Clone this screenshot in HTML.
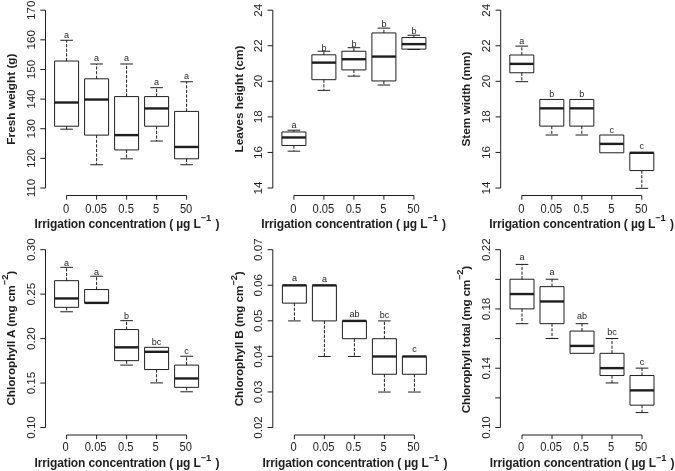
<!DOCTYPE html>
<html><head><meta charset="utf-8"><title>Boxplots</title>
<style>html,body{margin:0;padding:0;background:#fff}svg{display:block;filter:grayscale(1)}text{font-family:"Liberation Sans",sans-serif;fill:#1e1e1e}</style></head>
<body>
<svg width="675" height="471" viewBox="0 0 675 471">
<rect width="675" height="471" fill="#fff"/>
<g stroke="#1e1e1e" stroke-width="1" fill="none" stroke-linejoin="round">
<path d="M45.50 188.00V10.20M45.50 188.00h-5.20M45.50 158.37h-5.20M45.50 128.73h-5.20M45.50 99.10h-5.20M45.50 69.47h-5.20M45.50 39.83h-5.20M45.50 10.20h-5.20M66.60 195.50H186.60M66.60 195.50v4.20M96.60 195.50v4.20M126.60 195.50v4.20M156.60 195.50v4.20M186.60 195.50v4.20"/>
<rect x="54.60" y="61.03" width="24.00" height="65.19" fill="#fff"/>
<path d="M66.60 61.03V40.28" stroke-dasharray="3.1 1.5"/>
<path d="M66.60 126.22V129.18" stroke-dasharray="3.1 1.5"/>
<path d="M60.30 40.28h12.60M60.30 129.18h12.60"/>
<path d="M54.60 102.51h24.00" stroke-width="2.4"/>
<rect x="84.60" y="78.81" width="24.00" height="56.30" fill="#fff"/>
<path d="M96.60 78.81V63.99" stroke-dasharray="3.1 1.5"/>
<path d="M96.60 135.11V164.74" stroke-dasharray="3.1 1.5"/>
<path d="M90.30 63.99h12.60M90.30 164.74h12.60"/>
<path d="M84.60 99.55h24.00" stroke-width="2.4"/>
<rect x="114.60" y="96.59" width="24.00" height="53.34" fill="#fff"/>
<path d="M126.60 96.59V63.99" stroke-dasharray="3.1 1.5"/>
<path d="M126.60 149.93V158.82" stroke-dasharray="3.1 1.5"/>
<path d="M120.30 63.99h12.60M120.30 158.82h12.60"/>
<path d="M114.60 135.11h24.00" stroke-width="2.4"/>
<rect x="144.60" y="96.59" width="24.00" height="29.63" fill="#fff"/>
<path d="M156.60 96.59V87.70" stroke-dasharray="3.1 1.5"/>
<path d="M156.60 126.22V141.04" stroke-dasharray="3.1 1.5"/>
<path d="M150.30 87.70h12.60M150.30 141.04h12.60"/>
<path d="M144.60 108.44h24.00" stroke-width="2.4"/>
<rect x="174.60" y="111.40" width="24.00" height="47.41" fill="#fff"/>
<path d="M186.60 111.40V81.77" stroke-dasharray="3.1 1.5"/>
<path d="M186.60 158.82V164.74" stroke-dasharray="3.1 1.5"/>
<path d="M180.30 81.77h12.60M180.30 164.74h12.60"/>
<path d="M174.60 146.96h24.00" stroke-width="2.4"/>
</g>
<text x="66.60" y="38.13" font-size="9" text-anchor="middle">a</text>
<text x="96.60" y="61.44" font-size="9" text-anchor="middle">a</text>
<text x="126.60" y="61.44" font-size="9" text-anchor="middle">a</text>
<text x="156.60" y="84.95" font-size="9" text-anchor="middle">a</text>
<text x="186.60" y="79.02" font-size="9" text-anchor="middle">a</text>
<text transform="translate(35.10 188.00) rotate(-90) scale(1 0.94)" font-size="11.6" text-anchor="middle">110</text>
<text transform="translate(35.10 158.37) rotate(-90) scale(1 0.94)" font-size="11.6" text-anchor="middle">120</text>
<text transform="translate(35.10 128.73) rotate(-90) scale(1 0.94)" font-size="11.6" text-anchor="middle">130</text>
<text transform="translate(35.10 99.10) rotate(-90) scale(1 0.94)" font-size="11.6" text-anchor="middle">140</text>
<text transform="translate(35.10 69.47) rotate(-90) scale(1 0.94)" font-size="11.6" text-anchor="middle">150</text>
<text transform="translate(35.10 39.83) rotate(-90) scale(1 0.94)" font-size="11.6" text-anchor="middle">160</text>
<text transform="translate(35.10 10.20) rotate(-90) scale(1 0.94)" font-size="11.6" text-anchor="middle">170</text>
<text transform="translate(66.10 212.50) scale(0.9 1)" font-size="12.4" text-anchor="middle">0</text>
<text transform="translate(96.10 212.50) scale(0.9 1)" font-size="12.4" text-anchor="middle">0.05</text>
<text transform="translate(126.10 212.50) scale(0.9 1)" font-size="12.4" text-anchor="middle">0.5</text>
<text transform="translate(156.10 212.50) scale(0.9 1)" font-size="12.4" text-anchor="middle">5</text>
<text transform="translate(186.10 212.50) scale(0.9 1)" font-size="12.4" text-anchor="middle">50</text>
<text x="34.60" y="227.50" font-size="12" font-weight="bold" textLength="184.8" lengthAdjust="spacing">Irrigation concentration ( µg L<tspan dy="-6.3" font-size="9.3">−1</tspan><tspan dy="6.3" dx="1.2"> )</tspan></text>
<text transform="translate(14.80 99.10) rotate(-90)" font-size="11.8" font-weight="bold" text-anchor="middle">Fresh weight (g)</text>
<g stroke="#1e1e1e" stroke-width="1" fill="none" stroke-linejoin="round">
<path d="M272.80 188.00V10.20M272.80 188.00h-5.20M272.80 152.44h-5.20M272.80 116.88h-5.20M272.80 81.32h-5.20M272.80 45.76h-5.20M272.80 10.20h-5.20M293.90 195.50H413.90M293.90 195.50v4.20M323.90 195.50v4.20M353.90 195.50v4.20M383.90 195.50v4.20M413.90 195.50v4.20"/>
<rect x="281.90" y="131.97" width="24.00" height="13.51" fill="#fff"/>
<path d="M293.90 131.97V130.19" stroke-dasharray="3.1 1.5"/>
<path d="M293.90 145.48V151.17" stroke-dasharray="3.1 1.5"/>
<path d="M287.60 130.19h12.60M287.60 151.17h12.60"/>
<path d="M281.90 137.48h24.00" stroke-width="2.4"/>
<rect x="311.90" y="54.80" width="24.00" height="24.89" fill="#fff"/>
<path d="M323.90 54.80V51.24" stroke-dasharray="3.1 1.5"/>
<path d="M323.90 79.69V90.36" stroke-dasharray="3.1 1.5"/>
<path d="M317.60 51.24h12.60M317.60 90.36h12.60"/>
<path d="M311.90 62.62h24.00" stroke-width="2.4"/>
<rect x="341.90" y="51.24" width="24.00" height="18.67" fill="#fff"/>
<path d="M353.90 51.24V47.69" stroke-dasharray="3.1 1.5"/>
<path d="M353.90 69.91V76.14" stroke-dasharray="3.1 1.5"/>
<path d="M347.60 47.69h12.60M347.60 76.14h12.60"/>
<path d="M341.90 59.24h24.00" stroke-width="2.4"/>
<rect x="371.90" y="32.93" width="24.00" height="48.01" fill="#fff"/>
<path d="M383.90 32.93V28.13" stroke-dasharray="3.1 1.5"/>
<path d="M383.90 80.94V85.03" stroke-dasharray="3.1 1.5"/>
<path d="M377.60 28.13h12.60M377.60 85.03h12.60"/>
<path d="M371.90 56.58h24.00" stroke-width="2.4"/>
<rect x="401.90" y="37.55" width="24.00" height="11.56" fill="#fff"/>
<path d="M413.90 37.55V35.24" stroke-dasharray="3.1 1.5"/>
<path d="M413.90 49.11V49.47" stroke-dasharray="3.1 1.5"/>
<path d="M407.60 35.24h12.60M407.60 49.47h12.60"/>
<path d="M401.90 44.13h24.00" stroke-width="2.4"/>
</g>
<text x="293.90" y="127.64" font-size="9" text-anchor="middle">a</text>
<text x="323.90" y="50.89" font-size="9" text-anchor="middle">b</text>
<text x="353.90" y="47.14" font-size="9" text-anchor="middle">b</text>
<text x="383.90" y="26.98" font-size="9" text-anchor="middle">b</text>
<text x="413.90" y="34.19" font-size="9" text-anchor="middle">b</text>
<text transform="translate(262.40 188.00) rotate(-90) scale(1 0.94)" font-size="11.6" text-anchor="middle">14</text>
<text transform="translate(262.40 152.44) rotate(-90) scale(1 0.94)" font-size="11.6" text-anchor="middle">16</text>
<text transform="translate(262.40 116.88) rotate(-90) scale(1 0.94)" font-size="11.6" text-anchor="middle">18</text>
<text transform="translate(262.40 81.32) rotate(-90) scale(1 0.94)" font-size="11.6" text-anchor="middle">20</text>
<text transform="translate(262.40 45.76) rotate(-90) scale(1 0.94)" font-size="11.6" text-anchor="middle">22</text>
<text transform="translate(262.40 10.20) rotate(-90) scale(1 0.94)" font-size="11.6" text-anchor="middle">24</text>
<text transform="translate(293.40 212.50) scale(0.9 1)" font-size="12.4" text-anchor="middle">0</text>
<text transform="translate(323.40 212.50) scale(0.9 1)" font-size="12.4" text-anchor="middle">0.05</text>
<text transform="translate(353.40 212.50) scale(0.9 1)" font-size="12.4" text-anchor="middle">0.5</text>
<text transform="translate(383.40 212.50) scale(0.9 1)" font-size="12.4" text-anchor="middle">5</text>
<text transform="translate(413.40 212.50) scale(0.9 1)" font-size="12.4" text-anchor="middle">50</text>
<text x="261.30" y="227.50" font-size="12" font-weight="bold" textLength="184.8" lengthAdjust="spacing">Irrigation concentration ( µg L<tspan dy="-6.3" font-size="9.3">−1</tspan><tspan dy="6.3" dx="1.2"> )</tspan></text>
<text transform="translate(242.70 99.10) rotate(-90)" font-size="11.8" font-weight="bold" text-anchor="middle">Leaves height (cm)</text>
<g stroke="#1e1e1e" stroke-width="1" fill="none" stroke-linejoin="round">
<path d="M500.70 188.00V10.20M500.70 188.00h-5.20M500.70 152.44h-5.20M500.70 116.88h-5.20M500.70 81.32h-5.20M500.70 45.76h-5.20M500.70 10.20h-5.20M521.80 195.50H641.80M521.80 195.50v4.20M551.80 195.50v4.20M581.80 195.50v4.20M611.80 195.50v4.20M641.80 195.50v4.20"/>
<rect x="509.80" y="55.00" width="24.00" height="17.78" fill="#fff"/>
<path d="M521.80 55.00V46.11" stroke-dasharray="3.1 1.5"/>
<path d="M521.80 72.78V81.67" stroke-dasharray="3.1 1.5"/>
<path d="M515.50 46.11h12.60M515.50 81.67h12.60"/>
<path d="M509.80 63.89h24.00" stroke-width="2.4"/>
<rect x="539.80" y="99.45" width="24.00" height="26.67" fill="#fff"/>
<path d="M551.80 126.12V135.01" stroke-dasharray="3.1 1.5"/>
<path d="M545.50 135.01h12.60"/>
<path d="M539.80 108.34h24.00" stroke-width="2.4"/>
<rect x="569.80" y="99.45" width="24.00" height="26.67" fill="#fff"/>
<path d="M581.80 126.12V135.01" stroke-dasharray="3.1 1.5"/>
<path d="M575.50 135.01h12.60"/>
<path d="M569.80 108.34h24.00" stroke-width="2.4"/>
<rect x="599.80" y="135.01" width="24.00" height="17.78" fill="#fff"/>
<path d="M599.80 143.90h24.00" stroke-width="2.4"/>
<rect x="629.80" y="152.79" width="24.00" height="17.78" fill="#fff"/>
<path d="M641.80 170.57V188.35" stroke-dasharray="3.1 1.5"/>
<path d="M635.50 188.35h12.60"/>
<path d="M629.80 152.79h24.00" stroke-width="2.4"/>
</g>
<text x="521.80" y="44.06" font-size="9" text-anchor="middle">a</text>
<text x="551.80" y="97.40" font-size="9" text-anchor="middle">b</text>
<text x="581.80" y="97.40" font-size="9" text-anchor="middle">b</text>
<text x="611.80" y="132.96" font-size="9" text-anchor="middle">c</text>
<text x="641.80" y="148.64" font-size="9" text-anchor="middle">c</text>
<text transform="translate(490.30 188.00) rotate(-90) scale(1 0.94)" font-size="11.6" text-anchor="middle">14</text>
<text transform="translate(490.30 152.44) rotate(-90) scale(1 0.94)" font-size="11.6" text-anchor="middle">16</text>
<text transform="translate(490.30 116.88) rotate(-90) scale(1 0.94)" font-size="11.6" text-anchor="middle">18</text>
<text transform="translate(490.30 81.32) rotate(-90) scale(1 0.94)" font-size="11.6" text-anchor="middle">20</text>
<text transform="translate(490.30 45.76) rotate(-90) scale(1 0.94)" font-size="11.6" text-anchor="middle">22</text>
<text transform="translate(490.30 10.20) rotate(-90) scale(1 0.94)" font-size="11.6" text-anchor="middle">24</text>
<text transform="translate(521.30 212.50) scale(0.9 1)" font-size="12.4" text-anchor="middle">0</text>
<text transform="translate(551.30 212.50) scale(0.9 1)" font-size="12.4" text-anchor="middle">0.05</text>
<text transform="translate(581.30 212.50) scale(0.9 1)" font-size="12.4" text-anchor="middle">0.5</text>
<text transform="translate(611.30 212.50) scale(0.9 1)" font-size="12.4" text-anchor="middle">5</text>
<text transform="translate(641.30 212.50) scale(0.9 1)" font-size="12.4" text-anchor="middle">50</text>
<text x="489.20" y="227.50" font-size="12" font-weight="bold" textLength="184.8" lengthAdjust="spacing">Irrigation concentration ( µg L<tspan dy="-6.3" font-size="9.3">−1</tspan><tspan dy="6.3" dx="1.2"> )</tspan></text>
<text transform="translate(470.00 99.10) rotate(-90)" font-size="11.8" font-weight="bold" text-anchor="middle">Stem width (mm)</text>
<g stroke="#1e1e1e" stroke-width="1" fill="none" stroke-linejoin="round">
<path d="M45.50 427.50V249.70M45.50 427.50h-5.20M45.50 383.05h-5.20M45.50 338.60h-5.20M45.50 294.15h-5.20M45.50 249.70h-5.20M66.60 435.00H186.60M66.60 435.00v4.20M96.60 435.00v4.20M126.60 435.00v4.20M156.60 435.00v4.20M186.60 435.00v4.20"/>
<rect x="54.60" y="280.66" width="24.00" height="26.67" fill="#fff"/>
<path d="M66.60 280.66V267.33" stroke-dasharray="3.1 1.5"/>
<path d="M66.60 307.34V311.78" stroke-dasharray="3.1 1.5"/>
<path d="M60.30 267.33h12.60M60.30 311.78h12.60"/>
<path d="M54.60 298.45h24.00" stroke-width="2.4"/>
<rect x="84.60" y="289.56" width="24.00" height="13.34" fill="#fff"/>
<path d="M96.60 289.56V276.22" stroke-dasharray="3.1 1.5"/>
<path d="M90.30 276.22h12.60"/>
<path d="M84.60 302.89h24.00" stroke-width="2.4"/>
<rect x="114.60" y="329.56" width="24.00" height="31.11" fill="#fff"/>
<path d="M126.60 329.56V320.67" stroke-dasharray="3.1 1.5"/>
<path d="M126.60 360.68V365.12" stroke-dasharray="3.1 1.5"/>
<path d="M120.30 320.67h12.60M120.30 365.12h12.60"/>
<path d="M114.60 347.34h24.00" stroke-width="2.4"/>
<rect x="144.60" y="347.34" width="24.00" height="22.22" fill="#fff"/>
<path d="M156.60 369.56V382.90" stroke-dasharray="3.1 1.5"/>
<path d="M150.30 382.90h12.60"/>
<path d="M144.60 351.79h24.00" stroke-width="2.4"/>
<rect x="174.60" y="365.12" width="24.00" height="22.23" fill="#fff"/>
<path d="M186.60 365.12V356.23" stroke-dasharray="3.1 1.5"/>
<path d="M186.60 387.35V391.79" stroke-dasharray="3.1 1.5"/>
<path d="M180.30 356.23h12.60M180.30 391.79h12.60"/>
<path d="M174.60 378.46h24.00" stroke-width="2.4"/>
</g>
<text x="66.60" y="265.78" font-size="9" text-anchor="middle">a</text>
<text x="96.60" y="274.67" font-size="9" text-anchor="middle">a</text>
<text x="126.60" y="319.12" font-size="9" text-anchor="middle">b</text>
<text x="156.60" y="345.09" font-size="9" text-anchor="middle">bc</text>
<text x="186.60" y="353.98" font-size="9" text-anchor="middle">c</text>
<text transform="translate(35.10 427.50) rotate(-90) scale(1 0.94)" font-size="11.6" text-anchor="middle">0.10</text>
<text transform="translate(35.10 383.05) rotate(-90) scale(1 0.94)" font-size="11.6" text-anchor="middle">0.15</text>
<text transform="translate(35.10 338.60) rotate(-90) scale(1 0.94)" font-size="11.6" text-anchor="middle">0.20</text>
<text transform="translate(35.10 294.15) rotate(-90) scale(1 0.94)" font-size="11.6" text-anchor="middle">0.25</text>
<text transform="translate(35.10 249.70) rotate(-90) scale(1 0.94)" font-size="11.6" text-anchor="middle">0.30</text>
<text transform="translate(65.70 451.25) scale(0.9 1)" font-size="12.4" text-anchor="middle">0</text>
<text transform="translate(95.70 451.25) scale(0.9 1)" font-size="12.4" text-anchor="middle">0.05</text>
<text transform="translate(125.70 451.25) scale(0.9 1)" font-size="12.4" text-anchor="middle">0.5</text>
<text transform="translate(155.70 451.25) scale(0.9 1)" font-size="12.4" text-anchor="middle">5</text>
<text transform="translate(185.70 451.25) scale(0.9 1)" font-size="12.4" text-anchor="middle">50</text>
<text x="34.60" y="467.00" font-size="12" font-weight="bold" textLength="184.8" lengthAdjust="spacing">Irrigation concentration ( µg L<tspan dy="-6.3" font-size="9.3">−1</tspan><tspan dy="6.3" dx="1.2"> )</tspan></text>
<text transform="translate(14.80 338.20) rotate(-90)" font-size="11.8" font-weight="bold" text-anchor="middle" textLength="134.8" lengthAdjust="spacing">Chlorophyll A (mg cm<tspan dy="-6.5" font-size="9.3">−2</tspan><tspan dy="6.5">)</tspan></text>
<g stroke="#1e1e1e" stroke-width="1" fill="none" stroke-linejoin="round">
<path d="M272.80 427.50V249.70M272.80 427.50h-5.20M272.80 391.94h-5.20M272.80 356.38h-5.20M272.80 320.82h-5.20M272.80 285.26h-5.20M272.80 249.70h-5.20M294.40 435.00H414.40M294.40 435.00v4.20M324.40 435.00v4.20M354.40 435.00v4.20M384.40 435.00v4.20M414.40 435.00v4.20"/>
<rect x="282.40" y="285.36" width="24.00" height="17.78" fill="#fff"/>
<path d="M294.40 303.14V320.92" stroke-dasharray="3.1 1.5"/>
<path d="M288.10 320.92h12.60"/>
<path d="M282.40 285.36h24.00" stroke-width="2.4"/>
<rect x="312.40" y="285.36" width="24.00" height="35.56" fill="#fff"/>
<path d="M324.40 320.92V356.48" stroke-dasharray="3.1 1.5"/>
<path d="M318.10 356.48h12.60"/>
<path d="M312.40 285.36h24.00" stroke-width="2.4"/>
<rect x="342.40" y="320.92" width="24.00" height="17.78" fill="#fff"/>
<path d="M354.40 338.70V356.48" stroke-dasharray="3.1 1.5"/>
<path d="M348.10 356.48h12.60"/>
<path d="M342.40 320.92h24.00" stroke-width="2.4"/>
<rect x="372.40" y="338.70" width="24.00" height="35.56" fill="#fff"/>
<path d="M384.40 338.70V320.92" stroke-dasharray="3.1 1.5"/>
<path d="M384.40 374.26V392.04" stroke-dasharray="3.1 1.5"/>
<path d="M378.10 320.92h12.60M378.10 392.04h12.60"/>
<path d="M372.40 356.48h24.00" stroke-width="2.4"/>
<rect x="402.40" y="356.48" width="24.00" height="17.78" fill="#fff"/>
<path d="M414.40 374.26V392.04" stroke-dasharray="3.1 1.5"/>
<path d="M408.10 392.04h12.60"/>
<path d="M402.40 356.48h24.00" stroke-width="2.4"/>
</g>
<text x="294.40" y="281.16" font-size="9" text-anchor="middle">a</text>
<text x="324.40" y="281.76" font-size="9" text-anchor="middle">a</text>
<text x="354.40" y="317.47" font-size="9" text-anchor="middle">ab</text>
<text x="384.40" y="318.32" font-size="9" text-anchor="middle">bc</text>
<text x="414.40" y="352.28" font-size="9" text-anchor="middle">c</text>
<text transform="translate(262.40 427.50) rotate(-90) scale(1 0.94)" font-size="11.6" text-anchor="middle">0.02</text>
<text transform="translate(262.40 391.94) rotate(-90) scale(1 0.94)" font-size="11.6" text-anchor="middle">0.03</text>
<text transform="translate(262.40 356.38) rotate(-90) scale(1 0.94)" font-size="11.6" text-anchor="middle">0.04</text>
<text transform="translate(262.40 320.82) rotate(-90) scale(1 0.94)" font-size="11.6" text-anchor="middle">0.05</text>
<text transform="translate(262.40 285.26) rotate(-90) scale(1 0.94)" font-size="11.6" text-anchor="middle">0.06</text>
<text transform="translate(262.40 249.70) rotate(-90) scale(1 0.94)" font-size="11.6" text-anchor="middle">0.07</text>
<text transform="translate(293.50 451.25) scale(0.9 1)" font-size="12.4" text-anchor="middle">0</text>
<text transform="translate(323.50 451.25) scale(0.9 1)" font-size="12.4" text-anchor="middle">0.05</text>
<text transform="translate(353.50 451.25) scale(0.9 1)" font-size="12.4" text-anchor="middle">0.5</text>
<text transform="translate(383.50 451.25) scale(0.9 1)" font-size="12.4" text-anchor="middle">5</text>
<text transform="translate(413.50 451.25) scale(0.9 1)" font-size="12.4" text-anchor="middle">50</text>
<text x="262.60" y="467.00" font-size="12" font-weight="bold" textLength="184.8" lengthAdjust="spacing">Irrigation concentration ( µg L<tspan dy="-6.3" font-size="9.3">−1</tspan><tspan dy="6.3" dx="1.2"> )</tspan></text>
<text transform="translate(243.10 338.80) rotate(-90)" font-size="11.8" font-weight="bold" text-anchor="middle" textLength="135.1" lengthAdjust="spacing">Chlorophyll B (mg cm<tspan dy="-6.5" font-size="9.3">−2</tspan><tspan dy="6.5">)</tspan></text>
<g stroke="#1e1e1e" stroke-width="1" fill="none" stroke-linejoin="round">
<path d="M500.40 427.50V249.70M500.40 427.50h-5.20M500.40 368.23h-5.20M500.40 308.97h-5.20M500.40 249.70h-5.20M500.40 397.87h-5.20M500.40 338.60h-5.20M500.40 279.33h-5.20M522.00 435.00H642.00M522.00 435.00v4.20M552.00 435.00v4.20M582.00 435.00v4.20M612.00 435.00v4.20M642.00 435.00v4.20"/>
<rect x="510.00" y="279.23" width="24.00" height="29.63" fill="#fff"/>
<path d="M522.00 279.23V264.42" stroke-dasharray="3.1 1.5"/>
<path d="M522.00 308.87V323.68" stroke-dasharray="3.1 1.5"/>
<path d="M515.70 264.42h12.60M515.70 323.68h12.60"/>
<path d="M510.00 294.05h24.00" stroke-width="2.4"/>
<rect x="540.00" y="286.64" width="24.00" height="37.04" fill="#fff"/>
<path d="M552.00 286.64V279.23" stroke-dasharray="3.1 1.5"/>
<path d="M552.00 323.68V338.50" stroke-dasharray="3.1 1.5"/>
<path d="M545.70 279.23h12.60M545.70 338.50h12.60"/>
<path d="M540.00 301.46h24.00" stroke-width="2.4"/>
<rect x="570.00" y="331.09" width="24.00" height="22.23" fill="#fff"/>
<path d="M582.00 331.09V323.68" stroke-dasharray="3.1 1.5"/>
<path d="M575.70 323.68h12.60"/>
<path d="M570.00 345.91h24.00" stroke-width="2.4"/>
<rect x="600.00" y="353.32" width="24.00" height="22.22" fill="#fff"/>
<path d="M612.00 353.32V338.50" stroke-dasharray="3.1 1.5"/>
<path d="M612.00 375.54V382.95" stroke-dasharray="3.1 1.5"/>
<path d="M605.70 338.50h12.60M605.70 382.95h12.60"/>
<path d="M600.00 368.13h24.00" stroke-width="2.4"/>
<rect x="630.00" y="375.54" width="24.00" height="29.63" fill="#fff"/>
<path d="M642.00 375.54V368.13" stroke-dasharray="3.1 1.5"/>
<path d="M642.00 405.17V412.58" stroke-dasharray="3.1 1.5"/>
<path d="M635.70 368.13h12.60M635.70 412.58h12.60"/>
<path d="M630.00 390.36h24.00" stroke-width="2.4"/>
</g>
<text x="522.00" y="259.72" font-size="9" text-anchor="middle">a</text>
<text x="552.00" y="275.13" font-size="9" text-anchor="middle">a</text>
<text x="582.00" y="319.48" font-size="9" text-anchor="middle">ab</text>
<text x="612.00" y="335.40" font-size="9" text-anchor="middle">bc</text>
<text x="642.00" y="365.03" font-size="9" text-anchor="middle">c</text>
<text transform="translate(490.00 427.50) rotate(-90) scale(1 0.94)" font-size="11.6" text-anchor="middle">0.10</text>
<text transform="translate(490.00 368.23) rotate(-90) scale(1 0.94)" font-size="11.6" text-anchor="middle">0.14</text>
<text transform="translate(490.00 308.97) rotate(-90) scale(1 0.94)" font-size="11.6" text-anchor="middle">0.18</text>
<text transform="translate(490.00 249.70) rotate(-90) scale(1 0.94)" font-size="11.6" text-anchor="middle">0.22</text>
<text transform="translate(521.10 451.25) scale(0.9 1)" font-size="12.4" text-anchor="middle">0</text>
<text transform="translate(551.10 451.25) scale(0.9 1)" font-size="12.4" text-anchor="middle">0.05</text>
<text transform="translate(581.10 451.25) scale(0.9 1)" font-size="12.4" text-anchor="middle">0.5</text>
<text transform="translate(611.10 451.25) scale(0.9 1)" font-size="12.4" text-anchor="middle">5</text>
<text transform="translate(641.10 451.25) scale(0.9 1)" font-size="12.4" text-anchor="middle">50</text>
<text x="489.80" y="467.00" font-size="12" font-weight="bold" textLength="184.8" lengthAdjust="spacing">Irrigation concentration ( µg L<tspan dy="-6.3" font-size="9.3">−1</tspan><tspan dy="6.3" dx="1.2"> )</tspan></text>
<text transform="translate(469.70 339.55) rotate(-90)" font-size="11.8" font-weight="bold" text-anchor="middle" textLength="147.4" lengthAdjust="spacing">Chlorophyll total (mg cm<tspan dy="-6.5" font-size="9.3">−2</tspan><tspan dy="6.5">)</tspan></text>
</svg>
</body></html>
